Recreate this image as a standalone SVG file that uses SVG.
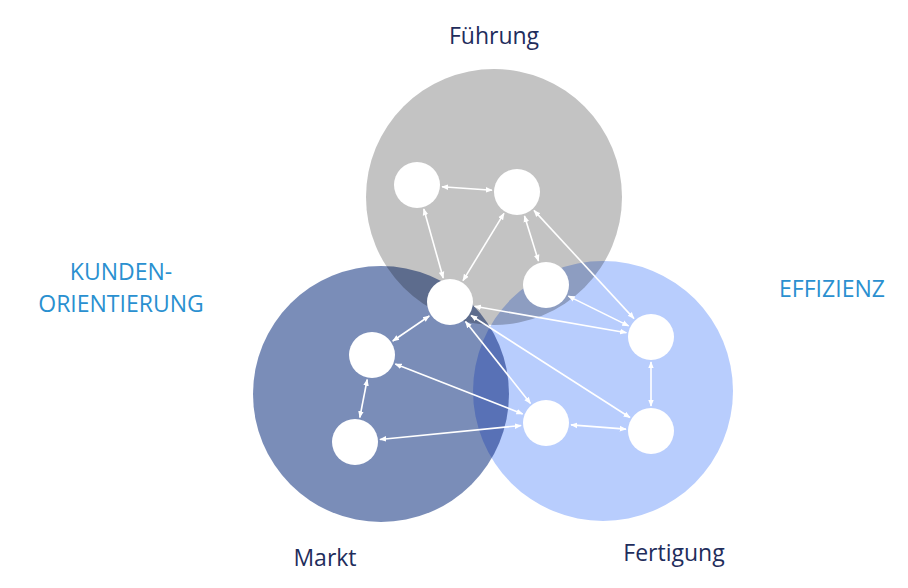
<svg xmlns="http://www.w3.org/2000/svg" width="908" height="588" viewBox="0 0 908 588">
<style>
.big{mix-blend-mode:multiply}
.n{fill:#fff}
.c line{stroke:#fff;stroke-width:1.6;marker-start:url(#a);marker-end:url(#a)}
.t{font-family:"Open Sans",sans-serif;font-size:23px;text-anchor:middle}
.d{fill:#1f2d5c}.b{fill:#2a90d0}
</style>
<defs><marker id="a" viewBox="0 0 10 10" refX="9" refY="5" markerWidth="7" markerHeight="7" orient="auto-start-reverse" markerUnits="userSpaceOnUse"><path d="M0,1 L10,5 L0,9 Z" fill="#fff"/></marker></defs>
<rect width="908" height="588" fill="#fff"/>
<g id="bigcircles" style="isolation:isolate">
<circle cx="494" cy="197" r="128" fill="#c3c3c3"/>
<circle class="big" cx="381" cy="394" r="128" fill="#7a8db8"/>
<circle class="big" cx="603" cy="391" r="130" fill="#b8cdfd"/>
</g>
<g id="connectors" class="c">
<line x1="442" y1="186.7" x2="492" y2="190.3"/>
<line x1="423.8" y1="209" x2="443.2" y2="278"/>
<line x1="504" y1="213.4" x2="463" y2="280.6"/>
<line x1="524.5" y1="215.9" x2="538.5" y2="261.1"/>
<line x1="534" y1="210.4" x2="634" y2="318.6"/>
<line x1="568.4" y1="296.1" x2="628.6" y2="325.9"/>
<line x1="474.6" y1="306.3" x2="626.4" y2="332.7"/>
<line x1="429.3" y1="316" x2="392.7" y2="341"/>
<line x1="465.5" y1="321.6" x2="530.5" y2="403.4"/>
<line x1="471" y1="315.5" x2="630" y2="417.5"/>
<line x1="367.2" y1="379.5" x2="359.8" y2="417.5"/>
<line x1="395.3" y1="364.1" x2="522.7" y2="413.9"/>
<line x1="379.9" y1="439.5" x2="521.1" y2="425.5"/>
<line x1="571" y1="424.9" x2="626" y2="429.1"/>
<line x1="651" y1="362" x2="651" y2="406"/>
</g>
<g id="nA"><circle class="n" cx="417" cy="185" r="23"/></g>
<g id="nB"><circle class="n" cx="517" cy="192" r="23"/></g>
<g id="nC"><circle class="n" cx="546" cy="285" r="23"/></g>
<g id="nD"><circle class="n" cx="450" cy="302" r="23"/></g>
<g id="nE"><circle class="n" cx="372" cy="355" r="23"/></g>
<g id="nF"><circle class="n" cx="355" cy="442" r="23"/></g>
<g id="nG"><circle class="n" cx="546" cy="423" r="23"/></g>
<g id="nH"><circle class="n" cx="651" cy="337" r="23"/></g>
<g id="nI"><circle class="n" cx="651" cy="431" r="23"/></g>
<g id="labels">
<text class="t d" x="494" y="44">Führung</text>
<text class="t b" x="121" y="280">KUNDEN-</text>
<text class="t b" x="121" y="312">ORIENTIERUNG</text>
<text class="t b" x="832" y="297">EFFIZIENZ</text>
<text class="t d" x="325" y="566">Markt</text>
<text class="t d" x="674" y="561">Fertigung</text>
</g>
</svg>
